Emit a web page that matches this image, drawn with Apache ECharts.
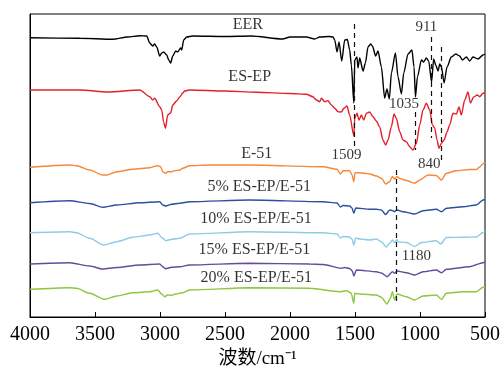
<!DOCTYPE html>
<html><head><meta charset="utf-8">
<script src="https://cdn.jsdelivr.net/npm/echarts@6/dist/echarts.min.js"></script>
<style>html,body{margin:0;padding:0;background:#fff}#c{width:501px;height:367px}</style>
</head><body><div id="c"></div>
<script>
// FTIR spectra: [wavenumber (cm-1), transmittance (a.u., offset stacked)]
const eer = [[4000,279.3],[3618,278.7],[3364,277.7],[3250,280],[3156,281.3],[3102,281],[3079,274],[3056,271],[3041,273],[3025,270],[3002,261],[2987,264],[2972,265],[2948,262],[2933,257],[2918,254],[2902,261],[2879,266],[2864,265],[2841,269],[2833,267],[2818,277],[2795,280],[2748,281],[2500,280.5],[2300,281],[2056,278],[2000,280],[1874,280],[1810,278],[1772,280],[1700,280.5],[1669,280],[1656,277],[1638,265],[1623,275],[1602,256],[1579,277],[1559,277.5],[1541,267],[1528,252],[1509,214],[1502,257],[1485,260],[1477,249],[1464,259],[1438,246],[1420,254],[1400,270],[1379,273],[1366,271],[1341,261],[1323,266],[1297,250],[1272,219],[1254,228],[1236,218],[1220,244],[1189,264],[1169,240],[1143,223],[1125,244],[1092,263],[1062,267],[1046,250],[1035,220],[1020,240],[989,257],[972,255],[951,259],[933,256],[911,235],[895,258],[879,252],[861,246],[848,253],[835,250],[815,234],[792,250],[759,260],[725,263],[695,261],[674,257],[643,260],[618,256],[592,260],[554,258],[515,262],[500,263]];
const esep = [[4000,227],[3618,227],[3400,225],[3156,227],[3079,220.3],[3056,217],[3041,218.7],[3002,210.3],[2987,207],[2972,195],[2958,188.7],[2941,202],[2918,204],[2902,212],[2872,216],[2848,220],[2825,224],[2810,226],[2772,227],[2500,226],[2258,224.7],[2000,223.5],[1874,222.7],[1823,220.3],[1810,218.5],[1797,217],[1772,215.3],[1758,218.7],[1733,215.3],[1708,216.3],[1682,212],[1656,208.7],[1631,205.3],[1605,205],[1585,208.7],[1562,211],[1541,202],[1509,181],[1502,199],[1485,203.7],[1469,197],[1451,202],[1433,197],[1412,203.7],[1387,205],[1362,200.3],[1336,196],[1310,190],[1285,177],[1264,172],[1246,177],[1220,190.3],[1200,203],[1182,198.7],[1156,185.3],[1131,177],[1105,175.3],[1079,170.3],[1054,167],[1028,173.7],[1002,192],[977,207],[951,213.7],[925,207],[905,192],[887,189],[869,177],[854,168.7],[835,173.7],[815,177],[792,185],[772,192],[746,203.7],[720,203],[700,210],[682,202],[656,217],[631,225],[612,214],[587,220],[559,222],[541,220.3],[515,223.7],[500,224]];
const e51 = [[4000,149.7],[3695,152],[3641,151.3],[3541,147],[3441,142],[3410,142],[3333,145.3],[3210,147.7],[3079,149.3],[3018,151.3],[2995,150.3],[2979,145.3],[2956,143.7],[2941,145.3],[2910,145.3],[2887,146.3],[2848,147],[2825,148.7],[2772,151.3],[2618,152],[2310,152],[1746,150.3],[1638,147.7],[1612,143],[1592,146.3],[1541,146.3],[1523,142],[1509,135.3],[1500,144.3],[1464,144.3],[1425,143.7],[1387,143],[1336,141],[1297,138.7],[1264,133],[1233,135.3],[1212,140.5],[1195,138],[1177,140.5],[1156,138.5],[1105,136.5],[1041,133.7],[1002,137],[938,142],[874,141.5],[835,137],[797,143.7],[720,146.3],[618,147.5],[566,147.5],[541,150],[515,153.3],[500,154]];
const ep5 = [[4000,114.3],[3695,116.3],[3541,113.5],[3441,109.7],[3333,112],[3156,114.3],[3002,115.3],[2979,112],[2956,111],[2910,112.7],[2848,113.7],[2772,115.3],[2310,117],[1746,115.3],[1638,114],[1612,110],[1592,111.5],[1541,111],[1523,109],[1509,103.7],[1495,109],[1387,107.7],[1336,107.7],[1297,107],[1264,102.5],[1233,107],[1212,106.5],[1195,105.3],[1177,107],[1131,105.3],[1041,103],[977,106.3],[874,107.7],[835,105.3],[797,108.7],[669,110.3],[566,112],[515,117],[500,117.5]];
const ep10 = [[4000,84.3],[3695,85.3],[3641,84.3],[3541,78.7],[3433,72],[3333,75.3],[3210,79.7],[3079,82],[3018,83.7],[2979,78.7],[2956,76.3],[2910,77.7],[2848,78.7],[2772,83],[2310,85.3],[1746,84.3],[1638,83],[1612,79],[1592,80.5],[1541,80],[1523,78],[1509,72],[1495,79],[1464,78],[1387,77],[1336,78],[1297,75.3],[1259,70],[1233,73.7],[1212,77],[1195,74.3],[1177,77.5],[1169,75.3],[1105,74.5],[1041,70.5],[989,74.5],[874,76.3],[841,73],[797,79.5],[669,79.7],[566,80],[515,84.5],[500,85.5]];
const ep15 = [[4000,53],[3695,54.3],[3541,51],[3441,48],[3333,49.5],[3156,52],[3002,53],[2979,50.3],[2956,48.3],[2910,49.7],[2848,50.3],[2772,52],[2310,53.7],[1849,53],[1746,52.5],[1605,48.7],[1580,49.5],[1541,48.5],[1520,46],[1509,41],[1489,47],[1336,45.3],[1297,44],[1254,40.3],[1212,45.3],[1195,43.7],[1177,46],[1105,44.3],[1041,42],[977,45.3],[874,47],[835,44.3],[797,47.7],[618,50.3],[515,54.3],[500,55]];
const ep20 = [[4000,27.7],[3695,29.3],[3641,28.7],[3541,23.7],[3425,17.7],[3333,21],[3210,24.3],[3079,25.3],[3018,27],[2987,23],[2964,20.3],[2941,22],[2910,21.7],[2879,23],[2825,24.3],[2772,27],[2310,29.3],[1849,28.7],[1618,25.3],[1566,26.3],[1530,24],[1509,13.7],[1502,23.7],[1464,23],[1336,22],[1297,19.7],[1254,13],[1228,18.7],[1212,25.3],[1195,17],[1177,23],[1105,20.3],[1041,17],[977,21],[874,22],[835,17.7],[797,23.7],[669,25.3],[566,25.3],[515,29.7],[500,30]];

const seriesNames = ['EER','ES-EP','E-51','5% ES-EP/E-51','10% ES-EP/E-51','15% ES-EP/E-51','20% ES-EP/E-51'];
const seriesData = [eer, esep, e51, ep5, ep10, ep15, ep20];
const seriesColors = ['#000000','#e3202a','#f5883a','#2c4f9e','#8ecbe6','#664a9c','#8dc63f'];
// curve name labels anchored in data coords [wavenumber, value]
const nameAnchors = [[2325,292],[2310,240],[2256,163],[2237,130],[2262,98],[2274,67],[2259,39.5]];
// peak annotations
const peakLabels = ['1509','1035','911','840','1180'];
const peakAnchors = [[1566,162],[1123,213],[951,290],[929,153],[1028,61]];
// dashed guide lines [wavenumber, from, to]
const guideLines = [[1509,293,169],[1035,205,167],[911,280,179],[840,270,154],[1180,147,14]];
const xTicks = [500,1000,1500,2000,2500,3000,3500,4000];

const serif = "'Liberation Serif','Times New Roman','Noto Sans CJK SC',serif";
const chart = echarts.init(document.getElementById('c'), null, {renderer:'canvas'});
const series = seriesData.map((d,i)=>({
  type:'line', name:seriesNames[i], data:d, showSymbol:false, smooth:0.25, smoothMonotone:'x',
  lineStyle:{color:seriesColors[i], width:1.4}, itemStyle:{color:seriesColors[i]}, silent:true, z:3
}));
series.push({
  type:'line', data:[], silent:true,
  markLine:{silent:true, symbol:['none','none'], label:{show:false},
    lineStyle:{type:[5,4], color:'#111', width:1.2},
    data: guideLines.map(g=>[{coord:[g[0],g[1]]},{coord:[g[0],g[2]]}])}
});
series.push({
  type:'scatter', silent:true, symbolSize:1, itemStyle:{color:'rgba(0,0,0,0)'}, z:5,
  data: seriesNames.map((n,i)=>({name:n, value:nameAnchors[i]})),
  label:{show:true, position:'inside', formatter:p=>p.name, color:'#000', fontFamily:serif, fontSize:16}
});
series.push({
  type:'scatter', silent:true, symbolSize:1, itemStyle:{color:'rgba(0,0,0,0)'}, z:5,
  data: peakLabels.map((n,i)=>({name:n, value:peakAnchors[i]})),
  label:{show:true, position:'inside', formatter:p=>p.name, color:'#000', fontFamily:serif, fontSize:15}
});

chart.setOption({
  animation:false,
  grid:{left:30, right:16, top:14, bottom:50, show:true, borderColor:'#000', borderWidth:1, outerBoundsMode:'none', containLabel:false},
  xAxis:{type:'value', inverse:true, min:xTicks[0], max:xTicks[xTicks.length-1], interval:500,
    name:'波数/cm⁻¹', nameLocation:'middle', nameGap:32,
    nameTextStyle:{fontFamily:serif, fontSize:19, color:'#000'},
    axisLine:{lineStyle:{color:'#000', width:1}},
    axisTick:{inside:true, length:5, lineStyle:{color:'#000'}},
    axisLabel:{fontFamily:serif, fontSize:20, color:'#000', margin:8, formatter:v=>String(v)},
    splitLine:{show:false}},
  yAxis:{type:'value', min:0, max:303, axisLine:{show:true, lineStyle:{color:'#000'}},
    axisTick:{show:false}, axisLabel:{show:false}, splitLine:{show:false}},
  series
});
</script></body></html>
